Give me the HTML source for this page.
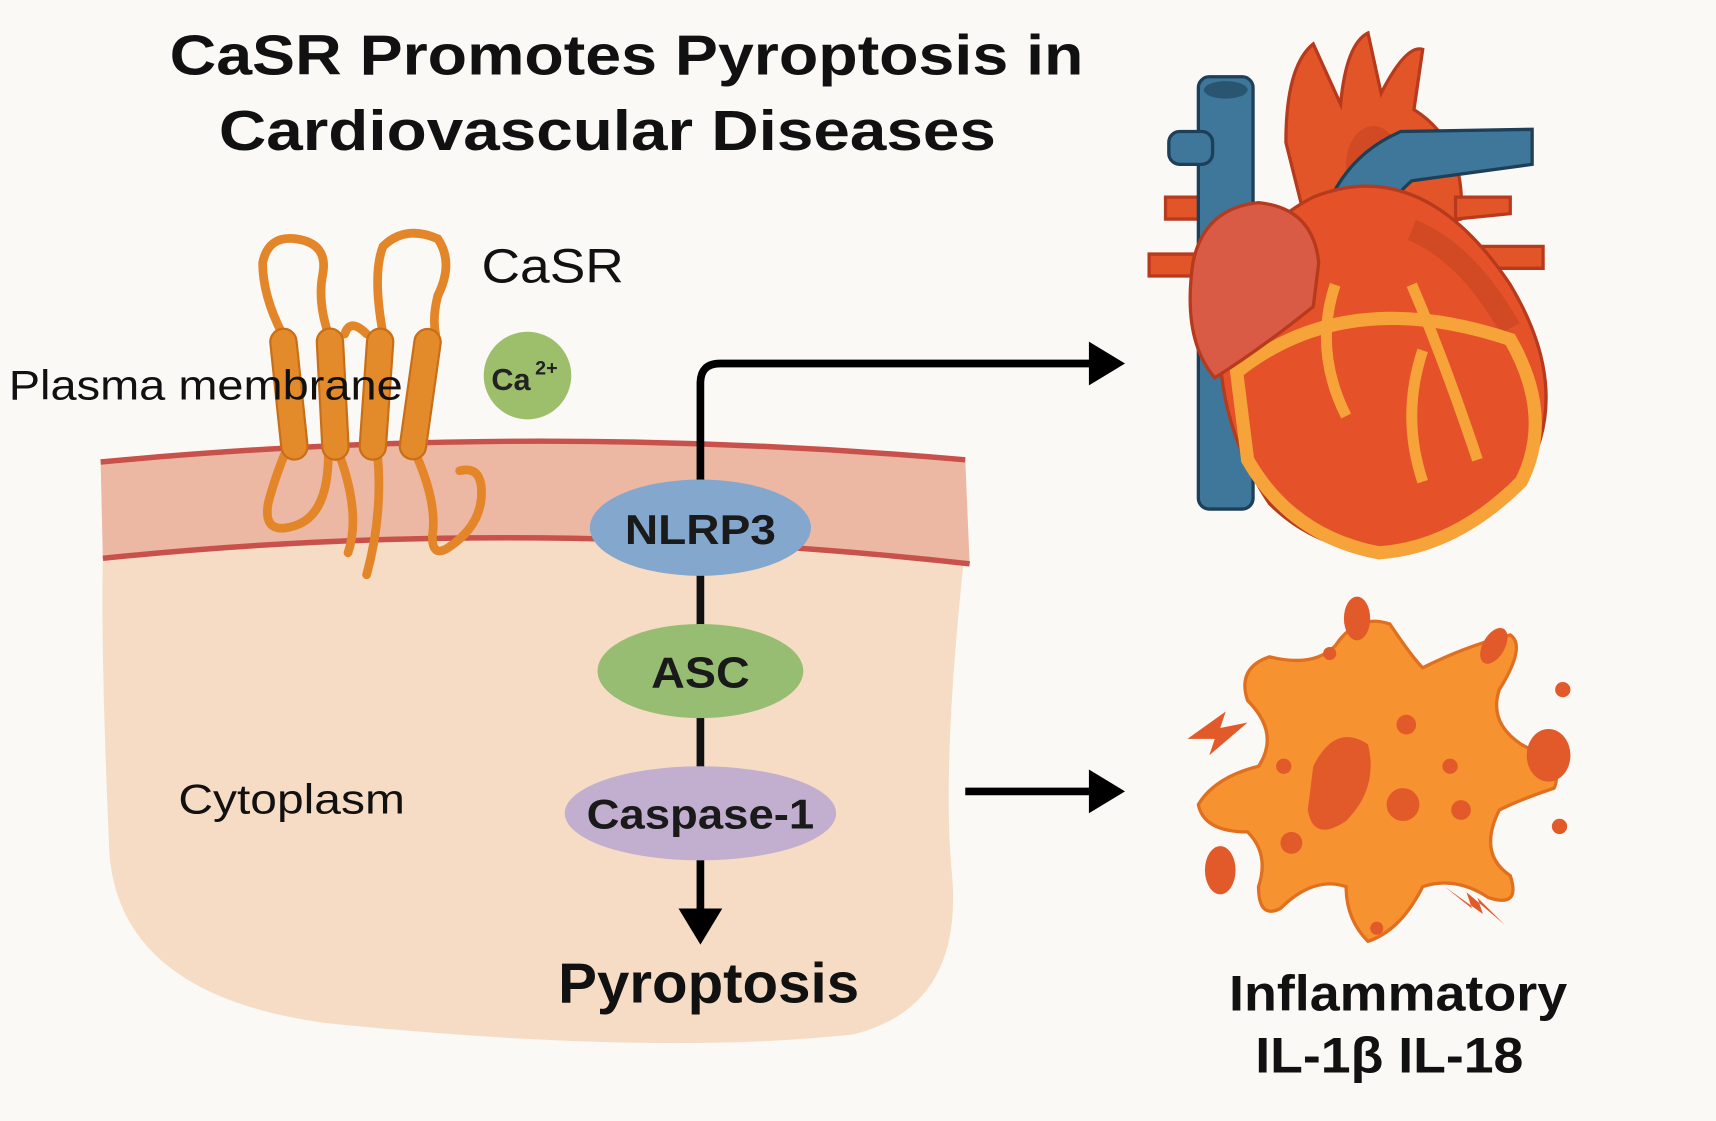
<!DOCTYPE html>
<html><head><style>
html,body{margin:0;padding:0;background:#fbf9f5;}
svg{display:block;}
text{font-family:"Liberation Sans",sans-serif;}
</style></head><body>
<svg width="1716" height="1121" viewBox="0 0 1568 1024" xmlns="http://www.w3.org/2000/svg">
<rect width="1568" height="1024" fill="#fbf9f5"/>
<text x="155" y="68" font-size="52" font-weight="bold" textLength="835" lengthAdjust="spacingAndGlyphs" fill="#111">CaSR Promotes Pyroptosis in</text>
<text x="200" y="137" font-size="52" font-weight="bold" textLength="710" lengthAdjust="spacingAndGlyphs" fill="#111">Cardiovascular  Diseases</text>

<!-- cell body -->
<path d="M92 422 Q480 385 882 420 L882 500 Q860 700 870 800 Q880 920 780 945 Q600 965 300 935 Q110 910 100 780 Q92 600 94 510 Z" fill="#f7dcc5"/>
<path d="M92 422 Q480 385 882 420 L886 515 Q480 470 94 510 Z" fill="#ecb8a3"/>
<path d="M92 422 Q480 385 882 420" fill="none" stroke="#c8514c" stroke-width="5"/>
<path d="M94 510 Q480 470 886 515" fill="none" stroke="#c8514c" stroke-width="5"/>

<!-- CaSR receptor -->
<g fill="none" stroke="#e3862a" stroke-width="8" stroke-linecap="round">
<path d="M258 305 Q240 270 240 240 Q245 215 270 218 Q300 222 295 250 Q290 275 300 305"/>
<path d="M350 305 Q340 250 350 225 Q370 205 400 218 Q415 240 400 270 Q395 290 398 305"/>
<path d="M315 305 Q320 290 335 305"/>
<path d="M260 415 Q250 440 245 460 Q240 490 270 480 Q300 470 300 415"/>
<path d="M310 415 Q330 470 318 505"/>
<path d="M345 415 Q350 470 335 525"/>
<path d="M380 415 Q400 460 395 490 Q395 510 410 500 Q440 480 440 450 Q440 425 420 430"/>
</g>
<g fill="#e38a2a" stroke="#c96e18" stroke-width="2">
<rect x="252" y="300" width="24" height="120" rx="12" transform="rotate(-6 264 360)"/>
<rect x="292" y="300" width="24" height="120" rx="12" transform="rotate(-3 304 360)"/>
<rect x="332" y="300" width="24" height="120" rx="12" transform="rotate(4 344 360)"/>
<rect x="372" y="300" width="24" height="120" rx="12" transform="rotate(8 384 360)"/>
</g>
<text x="440" y="258" font-size="44" textLength="130" lengthAdjust="spacingAndGlyphs" fill="#111">CaSR</text>
<circle cx="482" cy="343" r="40" fill="#9dbf6c"/>
<text x="449" y="356" font-size="28" font-weight="bold" fill="#222">Ca</text>
<text x="489" y="342" font-size="18" font-weight="bold" fill="#222">2+</text>
<text x="8" y="365" font-size="38" textLength="360" lengthAdjust="spacingAndGlyphs" fill="#111">Plasma membrane</text>
<text x="163" y="743" font-size="38" textLength="207" lengthAdjust="spacingAndGlyphs" fill="#111">Cytoplasm</text>

<!-- pathway -->
<path d="M640 440 L640 350 Q640 332 658 332 L1000 332" fill="none" stroke="#000" stroke-width="7"/>
<polygon points="995,312 1028,332 995,352" fill="#000"/>
<line x1="640" y1="510" x2="640" y2="575" stroke="#111" stroke-width="7"/>
<line x1="640" y1="650" x2="640" y2="705" stroke="#111" stroke-width="7"/>
<line x1="640" y1="780" x2="640" y2="835" stroke="#000" stroke-width="7"/>
<polygon points="620,830 660,830 640,863" fill="#000"/>
<ellipse cx="640" cy="482" rx="101" ry="44" fill="#84a7cd"/>
<text x="640" y="497" font-size="38" font-weight="bold" text-anchor="middle" textLength="138" lengthAdjust="spacingAndGlyphs" fill="#1a1a1a">NLRP3</text>
<ellipse cx="640" cy="613" rx="94" ry="43" fill="#97bd73"/>
<text x="640" y="628" font-size="40" font-weight="bold" text-anchor="middle" textLength="90" lengthAdjust="spacingAndGlyphs" fill="#1a1a1a">ASC</text>
<ellipse cx="640" cy="743" rx="124" ry="43" fill="#c2aecf"/>
<text x="640" y="757" font-size="38" font-weight="bold" text-anchor="middle" textLength="208" lengthAdjust="spacingAndGlyphs" fill="#1a1a1a">Caspase-1</text>
<text x="510" y="916" font-size="52" font-weight="bold" textLength="275" lengthAdjust="spacingAndGlyphs" fill="#111">Pyroptosis</text>

<line x1="882" y1="723" x2="1000" y2="723" stroke="#000" stroke-width="7"/>
<polygon points="995,703 1028,723 995,743" fill="#000"/>

<!-- heart -->
<g stroke="#b83a1c" stroke-width="3">
<path d="M1065 200 L1100 200 L1100 180 L1065 180 Z" fill="#e25528"/>
<path d="M1050 232 L1100 232 L1100 252 L1050 252 Z" fill="#e25528"/>
<path d="M1175 130 Q1175 60 1200 40 L1225 95 Q1230 40 1250 30 L1262 85 Q1285 40 1300 45 L1292 100 Q1340 130 1335 200 L1200 230 Z" fill="#e25528"/>
<path d="M1330 180 L1380 180 L1380 195 L1330 200 Z M1330 225 L1410 225 L1410 245 L1330 245 Z" fill="#e25528"/>
</g>
<ellipse cx="1255" cy="150" rx="25" ry="35" fill="#d24a24"/>
<g stroke="#1d3f57" stroke-width="3" fill="#3e7799">
<rect x="1095" y="70" width="50" height="395" rx="10"/>
<rect x="1068" y="120" width="40" height="30" rx="10"/>
<path d="M1200 240 Q1210 150 1280 120 L1400 118 L1400 150 L1290 165 Q1250 200 1250 250 Z"/>
</g>
<ellipse cx="1120" cy="82" rx="20" ry="8" fill="#2a5570"/>
<path d="M1200 180 Q1300 140 1380 260 Q1440 360 1390 440 Q1340 500 1260 505 Q1200 500 1160 460 Q1120 400 1115 330 Q1120 220 1200 180 Z" fill="#e5522a" stroke="#b83a1c" stroke-width="3"/>
<path d="M1290 210 Q1340 230 1380 300" fill="none" stroke="#d24a24" stroke-width="20"/>
<path d="M1130 340 Q1230 260 1380 310 Q1420 380 1390 440 Q1330 500 1260 505 Q1180 490 1140 420 Z" fill="none" stroke="#f6a43a" stroke-width="12"/>
<path d="M1290 260 Q1320 330 1350 420 M1220 260 Q1200 320 1230 380 M1300 320 Q1280 380 1300 440" fill="none" stroke="#f6a43a" stroke-width="10"/>
<path d="M1090 240 Q1100 190 1150 185 Q1200 190 1205 240 L1200 280 Q1150 320 1110 345 Q1080 310 1090 240 Z" fill="#d95a45" stroke="#b83a1c" stroke-width="3"/>

<!-- inflammatory cell -->
<path d="M1160 600 Q1200 610 1220 590 Q1240 560 1270 570 Q1290 600 1300 610 Q1340 590 1380 580 Q1395 590 1370 630 Q1360 660 1390 680 Q1430 700 1420 720 Q1390 730 1370 740 Q1350 780 1380 800 Q1390 830 1360 820 Q1330 800 1300 810 Q1280 850 1250 860 Q1230 840 1230 810 Q1200 800 1170 830 Q1150 840 1150 810 Q1160 780 1140 760 Q1100 760 1095 735 Q1110 710 1150 700 Q1170 670 1140 640 Q1130 610 1160 600 Z" fill="#f69230" stroke="#e06f20" stroke-width="3"/>
<g fill="#e35a2a">
<path d="M1200 700 Q1220 660 1250 680 Q1260 720 1230 750 Q1200 770 1195 740 Z"/>
<circle cx="1285" cy="662" r="9"/><circle cx="1282" cy="735" r="15"/><circle cx="1325" cy="700" r="7"/>
<circle cx="1335" cy="740" r="9"/><circle cx="1173" cy="700" r="7"/><circle cx="1180" cy="770" r="10"/>
<ellipse cx="1240" cy="565" rx="12" ry="20"/><ellipse cx="1365" cy="590" rx="10" ry="18" transform="rotate(30 1365 590)"/>
<circle cx="1215" cy="597" r="6"/><circle cx="1428" cy="630" r="7"/>
<ellipse cx="1415" cy="690" rx="20" ry="24"/><circle cx="1425" cy="755" r="7"/>
<ellipse cx="1115" cy="795" rx="14" ry="22"/><circle cx="1258" cy="848" r="6"/>
<polygon points="1085,675 1120,650 1115,665 1140,660 1105,690 1110,675"/>
<polygon points="1320,810 1345,830 1340,815 1375,845 1350,820 1355,835"/>
</g>
<text x="1123" y="923" font-size="46" font-weight="bold" textLength="309" lengthAdjust="spacingAndGlyphs" fill="#111">Inflammatory</text>
<text x="1147" y="980" font-size="46" font-weight="bold" textLength="245" lengthAdjust="spacingAndGlyphs" fill="#111">IL-1β  IL-18</text>
</svg>
</body></html>
